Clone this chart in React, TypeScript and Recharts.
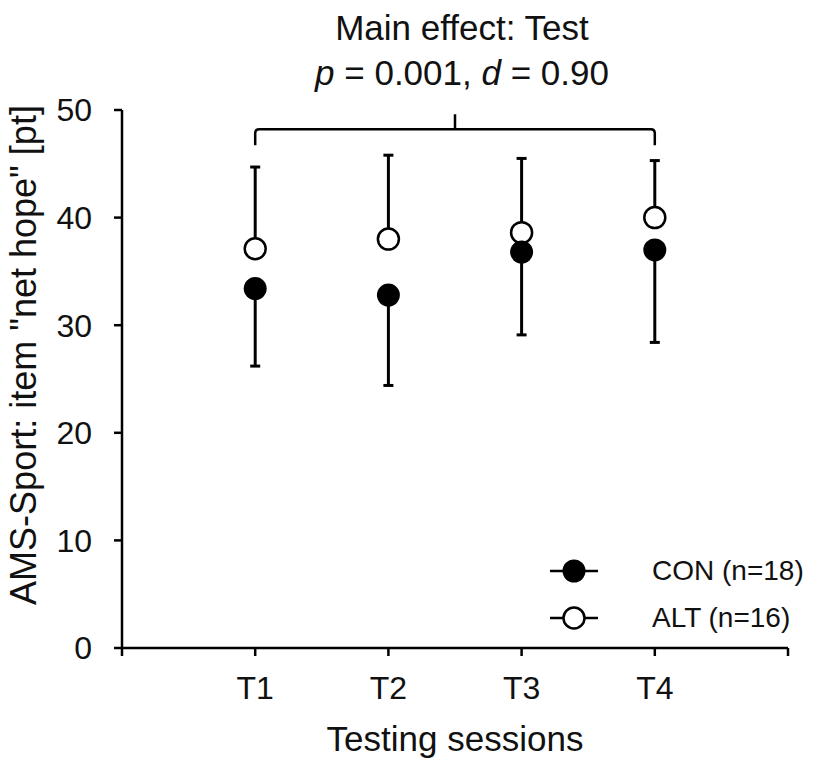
import React from "react";
import { ScatterChart, Scatter, XAxis, YAxis, ErrorBar, ReferenceLine, Legend, Label } from "recharts";

const sessions = ["T1", "T2", "T3", "T4"];
const conMeans = [33.4, 32.8, 36.8, 37.0];
const conSD = [7.2, 8.4, 7.7, 8.6];
const altMeans = [37.1, 38.0, 38.6, 40.0];
const altSD = [7.6, 7.8, 6.9, 5.3];
const yTicks = [0, 10, 20, 30, 40, 50];

const FONT = '"Liberation Sans", Arial, sans-serif';

// CON error bars go down, ALT error bars go up
const conData = sessions.map((s, i) => ({ x: i + 1, y: conMeans[i], err: [conSD[i], 0] }));
const altData = sessions.map((s, i) => ({ x: i + 1, y: altMeans[i], err: [0, altSD[i]] }));

const FilledDot = (props: any) => <circle cx={props.cx} cy={props.cy} r={11.5} fill="#000" />;
const OpenDot = (props: any) => (
  <circle cx={props.cx} cy={props.cy} r={10.5} fill="#fff" stroke="#000" strokeWidth={2.5} />
);

const Bracket = (props: any) => {
  const { x1, x2, y1 } = props;
  const mid = (x1 + x2) / 2;
  const d = 16;
  const r = 4;
  return (
    <g>
      <path
        d={`M${x1},${y1 + d} L${x1},${y1 + r} Q${x1},${y1} ${x1 + r},${y1} L${x2 - r},${y1} Q${x2},${y1} ${x2},${y1 + r} L${x2},${y1 + d} M${mid},${y1} L${mid},${y1 - 15}`}
        fill="none"
        stroke="#000"
        strokeWidth={2.5}
      />
      <text x={mid + 7} y={40} textAnchor="middle" fontSize={35} fontFamily={FONT} fill="#111">
        Main effect: Test
      </text>
      <text x={mid + 7} y={85} textAnchor="middle" fontSize={35} fontFamily={FONT} fill="#111">
        <tspan fontStyle="italic">p</tspan> = 0.001, <tspan fontStyle="italic">d</tspan> = 0.90
      </text>
    </g>
  );
};

const LegendMarker = ({ filled }: { filled: boolean }) => (
  <svg width={50} height={30}>
    <line x1={2} y1={15} x2={50} y2={15} stroke="#000" strokeWidth={2.5} />
    {filled ? (
      <circle cx={26} cy={15} r={11.5} fill="#000" />
    ) : (
      <circle cx={26} cy={15} r={10.5} fill="#fff" stroke="#000" strokeWidth={2.5} />
    )}
  </svg>
);

const renderLegend = () => (
  <div style={{ fontFamily: FONT, fontSize: 28, color: "#111" }}>
    {[
      { name: "CON (n=18)", filled: true },
      { name: "ALT (n=16)", filled: false },
    ].map((it) => (
      <div key={it.name} style={{ display: "flex", alignItems: "center", height: 47 }}>
        <LegendMarker filled={it.filled} />
        <span style={{ marginLeft: 54 }}>{it.name}</span>
      </div>
    ))}
  </div>
);

const renderYLabel = (props: any) => {
  const vb = props.viewBox;
  const x = vb.x + 36;
  const y = vb.y + vb.height / 2 - 24;
  return (
    <text x={x} y={y} transform={`rotate(-90, ${x}, ${y})`} textAnchor="middle" fontSize={36} fontFamily={FONT} fill="#111">
      AMS-Sport: item "net hope" [pt]
    </text>
  );
};

const renderXLabel = (props: any) => {
  const vb = props.viewBox;
  return (
    <text x={vb.x + vb.width / 2} y={vb.y + 103} textAnchor="middle" fontSize={35} fontFamily={FONT} fill="#111">
      Testing sessions
    </text>
  );
};

export default function App() {
  return (
    <div style={{ position: "absolute", left: 0, top: 0, background: "#fff" }}>
      <ScatterChart width={820} height={763} margin={{ top: 110, right: 32, bottom: 0, left: 0 }}>
        <XAxis
          type="number"
          dataKey="x"
          domain={[0, 5]}
          ticks={[0, 1, 2, 3, 4, 5]}
          tickFormatter={(v: number) => sessions[v - 1] ?? ""}
          height={115}
          tickSize={8}
          tickMargin={20}
          axisLine={{ stroke: "#000", strokeWidth: 2.5 }}
          tickLine={{ stroke: "#000", strokeWidth: 2.5 }}
          tick={{ fill: "#111", fontSize: 32, fontFamily: FONT }}
        >
          <Label content={renderXLabel} />
        </XAxis>
        <YAxis
          type="number"
          dataKey="y"
          domain={[0, 50]}
          ticks={yTicks}
          width={122}
          tickSize={8}
          tickMargin={22}
          axisLine={{ stroke: "#000", strokeWidth: 2.5 }}
          tickLine={{ stroke: "#000", strokeWidth: 2.5 }}
          tick={{ fill: "#111", fontSize: 32, fontFamily: FONT }}
        >
          <Label content={renderYLabel} />
        </YAxis>
        <ReferenceLine
          segment={[{ x: 1, y: 48.2 }, { x: 4, y: 48.2 }]}
          ifOverflow="visible"
          shape={Bracket}
        />
        <Scatter name="ALT (n=16)" data={altData} shape={OpenDot} isAnimationActive={false}>
          <ErrorBar dataKey="err" direction="y" width={5} stroke="#000" strokeWidth={3} />
        </Scatter>
        <Scatter name="CON (n=18)" data={conData} shape={FilledDot} isAnimationActive={false}>
          <ErrorBar dataKey="err" direction="y" width={5} stroke="#000" strokeWidth={3} />
        </Scatter>
        <Legend
          layout="vertical"
          align="center"
          verticalAlign="middle"
          content={renderLegend}
          wrapperStyle={{ position: "absolute", left: 548, top: 547, width: 270 }}
        />
      </ScatterChart>
    </div>
  );
}
